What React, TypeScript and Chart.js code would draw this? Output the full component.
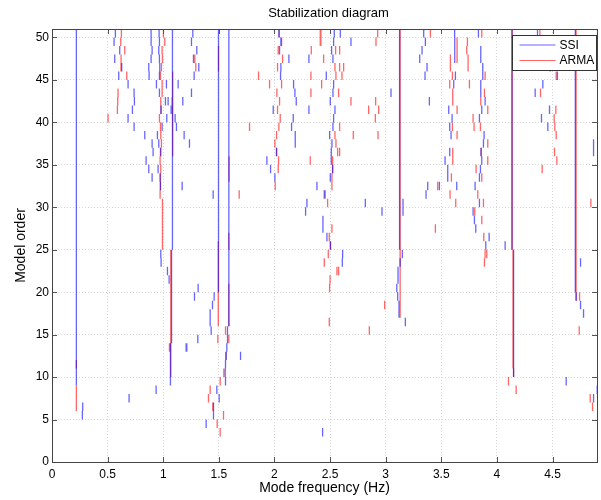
import React, { useEffect, useRef } from 'react';
import { Chart, registerables } from 'chart.js';

Chart.register(...registerables);

const X_MAX = 4.9;
const Y_MAX = 51;
const X_STEP = 0.5;
const Y_STEP = 5;
const TITLE = 'Stabilization diagram';
const X_LABEL = 'Mode frequency (Hz)';
const Y_LABEL = 'Model order';
const SERIES_NAMES = ['SSI', 'ARMA'];

// stable columns: [frequency, from order, to order (exclusive top)]
const ssiColumns: [number, number, number][] = [
  [0.219, 9, 51],
  [1.065, 9, 14],
  [1.075, 14, 25],
  [1.083, 25, 51],
  [1.497, 20, 51],
  [1.59, 16, 51],
  [3.125, 25, 51],
  [4.15, 10, 25],
  [4.135, 25, 51],
  [4.705, 20, 51],
];

// single poles: [frequency, model order]
const ssiPoles: [number, number][] = [
  [0.570, 50], [0.558, 49], [0.609, 48], [0.564, 47], [0.627, 46], [0.600, 45], [0.684, 44], [0.738, 43],
  [0.741, 42], [0.723, 41], [0.684, 40], [0.738, 39], [0.834, 38], [0.900, 37], [0.909, 36], [0.846, 35],
  [0.870, 34], [0.900, 33], [0.891, 50], [0.891, 49], [0.900, 48], [0.891, 47], [0.870, 46], [0.873, 45],
  [0.963, 50], [0.966, 49], [0.960, 48], [0.966, 47], [0.969, 46], [0.966, 45], [0.939, 44], [1.029, 44],
  [1.134, 44], [0.966, 43], [1.020, 42], [1.044, 42], [1.176, 42], [0.980, 41], [1.071, 41], [1.032, 40],
  [1.107, 40], [1.119, 39], [0.990, 39], [1.188, 38], [0.948, 38], [0.960, 37], [0.978, 36], [0.954, 34],
  [1.170, 32], [0.972, 33], [0.975, 32],
  [0.276, 6], [0.273, 5], [0.693, 7], [0.936, 8], [0.978, 24], [0.981, 23], [1.038, 22], [1.053, 21], [1.212, 13],
  [1.314, 20], [1.281, 19], [1.458, 19], [1.443, 18], [1.422, 17], [1.422, 16], [1.431, 15], [1.311, 14],
  [1.206, 13], [1.695, 12], [1.578, 15], [1.578, 14], [1.572, 13], [1.566, 12], [1.560, 11], [1.557, 10],
  [1.560, 9], [1.482, 8], [1.503, 7], [1.452, 6], [1.452, 5], [1.386, 4], [1.497, 20],
  [1.266, 50], [1.254, 49], [1.302, 48], [1.272, 47], [1.320, 46], [1.278, 45], [1.254, 43], [1.236, 37], [1.449, 31],
  [2.040, 50], [2.058, 49], [2.046, 48], [2.058, 46], [2.055, 45], [1.989, 41], [1.932, 35], [1.965, 34],
  [2.004, 33], [2.019, 36],
  [2.130, 47], [2.310, 47], [2.172, 44], [2.184, 43], [2.196, 42], [2.310, 41], [2.169, 40], [2.154, 39],
  [2.187, 38], [2.187, 37], [2.382, 32], [2.292, 30], [2.280, 29],
  [2.502, 25], [2.613, 24], [2.610, 23], [2.433, 3], [3.111, 22], [3.111, 21], [3.100, 20], [3.108, 19],
  [3.120, 18], [3.120, 17], [3.150, 24], [3.177, 16], [3.130, 23],
  [2.538, 50], [2.592, 50], [2.532, 49], [2.688, 49], [3.342, 50], [3.357, 49], [2.514, 48], [3.327, 48],
  [2.526, 47], [3.306, 47], [3.372, 46], [2.466, 45], [3.354, 45], [2.532, 44], [3.048, 43], [2.526, 43],
  [2.502, 42], [3.393, 42], [2.544, 41], [2.532, 40], [2.526, 39], [2.496, 38], [2.517, 37], [2.511, 36],
  [2.511, 35], [2.523, 34], [2.502, 33], [2.448, 31], [2.817, 30], [2.436, 28], [2.436, 27], [2.967, 29],
  [2.472, 26], [3.378, 32], [3.363, 31], [3.483, 32], [3.156, 30], [3.156, 29],
  [3.620, 50], [3.621, 49], [3.621, 48], [3.621, 47], [3.627, 45], [3.612, 44], [3.567, 41], [3.597, 40],
  [3.576, 39], [3.588, 38], [3.576, 36], [3.534, 35], [3.558, 34], [3.558, 33], [3.639, 32],
  [3.834, 50], [3.855, 48], [3.855, 47], [3.873, 46], [3.873, 45], [3.855, 44], [3.855, 43], [3.894, 42],
  [3.864, 41], [3.843, 40], [3.885, 38], [3.879, 37], [3.858, 36], [3.864, 35], [3.852, 34], [3.843, 33],
  [3.804, 32], [3.843, 30], [3.786, 29], [3.798, 28], [3.810, 27], [3.930, 26], [3.900, 25],
  [4.365, 50], [4.479, 46], [4.544, 45], [4.344, 43], [4.413, 44], [4.473, 41], [4.401, 40], [4.458, 39],
  [4.869, 37], [4.869, 36], [4.905, 50], [4.074, 25],
  [4.752, 23], [4.713, 19], [4.752, 18], [4.779, 17], [4.623, 9], [4.902, 8], [4.869, 7], [4.914, 6],
];

const armaColumns: [number, number, number][] = [
  [0.219, 6, 9],
  [0.219, 11, 12],
  [0.993, 25, 31],
  [1.068, 10, 25],
  [1.085, 36, 46],
  [1.495, 16, 26],
  [1.497, 46, 49],
  [1.59, 16, 21],
  [1.59, 25, 27],
  [1.592, 33, 36],
  [3.13, 17, 51],
  [4.145, 11, 25],
  [4.138, 25, 51],
  [4.712, 19, 51],
];

const armaPoles: [number, number][] = [
  [0.624, 50], [0.618, 49], [0.654, 48], [0.621, 47], [0.620, 46], [0.672, 45], [0.594, 43], [0.591, 42],
  [0.588, 41], [0.504, 40],
  [1.002, 50], [1.014, 49], [0.990, 48], [0.993, 47], [0.984, 46], [0.975, 45], [0.990, 44], [0.990, 43],
  [0.978, 42], [0.980, 41], [0.966, 40], [0.975, 39], [0.978, 38], [0.984, 37], [0.975, 36], [0.972, 35],
  [0.978, 34], [0.975, 33], [0.975, 32], [0.972, 31], [1.080, 42], [1.056, 13],
  [1.491, 14], [1.560, 15], [1.590, 14], [1.563, 12], [1.545, 10], [1.512, 9], [1.422, 8], [1.407, 7],
  [1.446, 6], [1.542, 5], [1.485, 4], [1.512, 3],
  [1.284, 47], [1.293, 46], [1.683, 31], [1.776, 39], [1.857, 45], [1.956, 44],
  [2.043, 50], [2.064, 49], [2.034, 48], [2.073, 47], [2.028, 46], [2.064, 44], [2.022, 43], [2.046, 42],
  [2.028, 41], [2.052, 40], [2.040, 39], [2.019, 38], [2.004, 37], [2.019, 36], [2.037, 35], [2.034, 34],
  [2.007, 32],
  [2.331, 48], [2.418, 50], [2.418, 49], [2.328, 45], [2.424, 44], [2.328, 43], [2.322, 35],
  [2.505, 25], [2.484, 24], [2.448, 23], [2.562, 22], [2.577, 22], [2.500, 21], [2.496, 20], [2.493, 16],
  [2.853, 15], [2.991, 18],
  [2.412, 50], [2.412, 49], [2.913, 49], [2.928, 50], [3.402, 50], [2.550, 48], [2.586, 48], [2.442, 47],
  [2.544, 46], [2.586, 46], [2.622, 46], [2.553, 45], [2.607, 45], [2.424, 44], [2.577, 43], [2.688, 42],
  [2.910, 42], [2.847, 41], [2.937, 41], [2.907, 40], [2.586, 39], [2.544, 38], [2.709, 38], [2.931, 38],
  [2.553, 37], [2.568, 36], [2.586, 36], [2.523, 35], [2.523, 34], [2.517, 33], [2.517, 32], [2.457, 31],
  [2.478, 30], [2.517, 27], [3.447, 27], [2.493, 26], [3.468, 32],
  [3.642, 49], [3.642, 48], [3.642, 47], [3.582, 47], [3.582, 46], [3.600, 45], [3.576, 44], [3.603, 43],
  [3.603, 42], [3.642, 41], [3.600, 39], [3.642, 38], [3.603, 36], [3.603, 35], [3.591, 33], [3.579, 31],
  [3.630, 30],
  [3.864, 50], [3.735, 49], [3.729, 48], [3.741, 47], [3.741, 46], [3.894, 45], [3.753, 44], [3.888, 43],
  [3.855, 42], [3.918, 41], [3.786, 40], [3.795, 39], [3.852, 39], [3.918, 37], [3.858, 36], [3.918, 35],
  [3.813, 34], [3.864, 33], [3.828, 31], [3.879, 30], [3.801, 29], [3.864, 28], [3.882, 26],
  [4.386, 50], [4.533, 45], [4.392, 43], [4.530, 41], [4.515, 40], [4.521, 39], [4.533, 38], [4.518, 36],
  [4.539, 35], [4.407, 34], [4.845, 30], [4.908, 50], [4.905, 45],
  [3.894, 24], [3.909, 24], [3.888, 23], [4.104, 9], [4.173, 8], [4.150, 10], [4.743, 19], [4.740, 15],
  [4.914, 18], [4.839, 7], [4.860, 6], [4.908, 5],
];

type Pt = { x: number; y: number | null };

function buildSegments(cols: [number, number, number][], poles: [number, number][]): Pt[] {
  const out: Pt[] = [];
  for (const [f, lo, hi] of cols) {
    out.push({ x: f, y: lo }, { x: f, y: hi }, { x: f, y: null });
  }
  for (const [f, n] of poles) {
    out.push({ x: f, y: n }, { x: f, y: n + 1 }, { x: f, y: null });
  }
  return out;
}

const FONT = "'Liberation Sans', Arial, sans-serif";
const SSI_COLOR = 'rgba(0, 0, 255, 0.6)';
const ARMA_COLOR = 'rgba(255, 0, 0, 0.6)';

const framePlugin = {
  id: 'frame',
  afterDraw(chart: any) {
    const { ctx, chartArea: ca, scales } = chart;
    ctx.save();
    // inward ticks
    ctx.strokeStyle = '#555';
    ctx.lineWidth = 1;
    ctx.beginPath();
    for (const t of scales.x.ticks) {
      const px = Math.round(scales.x.getPixelForValue(t.value)) + 0.5;
      ctx.moveTo(px, ca.bottom);
      ctx.lineTo(px, ca.bottom - 5);
      ctx.moveTo(px, ca.top);
      ctx.lineTo(px, ca.top + 5);
    }
    for (const t of scales.y.ticks) {
      const py = Math.round(scales.y.getPixelForValue(t.value)) + 0.5;
      ctx.moveTo(ca.left, py);
      ctx.lineTo(ca.left + 5, py);
      ctx.moveTo(ca.right, py);
      ctx.lineTo(ca.right - 5, py);
    }
    ctx.stroke();
    // box
    ctx.strokeStyle = '#444';
    ctx.strokeRect(Math.round(ca.left) + 0.5, Math.round(ca.top) + 0.5,
      Math.round(ca.right - ca.left), Math.round(ca.bottom - ca.top));
    // title
    ctx.fillStyle = '#000';
    ctx.font = `13px ${FONT}`;
    ctx.textAlign = 'center';
    ctx.textBaseline = 'middle';
    ctx.fillText(TITLE, (ca.left + ca.right) / 2 + 4, 13);
    // legend
    const w = 84, h = 35;
    const x0 = Math.round(ca.right) - w - 1 + 0.5;
    const y0 = Math.round(ca.top) + 6 + 0.5;
    ctx.fillStyle = '#fff';
    ctx.fillRect(x0, y0, w, h);
    ctx.strokeStyle = '#333';
    ctx.strokeRect(x0, y0, w, h);
    const rows = [SSI_COLOR, ARMA_COLOR];
    ctx.font = `12px ${FONT}`;
    ctx.textAlign = 'left';
    rows.forEach((c, i) => {
      const ly = y0 + 9.5 + i * 15.5;
      ctx.strokeStyle = c;
      ctx.lineWidth = 1.2;
      ctx.beginPath();
      ctx.moveTo(x0 + 7, ly);
      ctx.lineTo(x0 + 43, ly);
      ctx.stroke();
      ctx.fillStyle = '#000';
      ctx.fillText(SERIES_NAMES[i], x0 + 47, ly + 0.5);
    });
    ctx.restore();
  },
};

export default function App() {
  const ref = useRef<HTMLCanvasElement | null>(null);
  useEffect(() => {
    if (!ref.current) return;
    const chart = new Chart(ref.current, {
      type: 'scatter',
      data: {
        datasets: [
          {
            label: SERIES_NAMES[0],
            data: buildSegments(ssiColumns, ssiPoles) as any,
            showLine: true,
            borderColor: SSI_COLOR,
            borderWidth: 1.3,
            pointRadius: 0,
            pointHoverRadius: 0,
            spanGaps: false,
          },
          {
            label: SERIES_NAMES[1],
            data: buildSegments(armaColumns, armaPoles) as any,
            showLine: true,
            borderColor: ARMA_COLOR,
            borderWidth: 1.3,
            pointRadius: 0,
            pointHoverRadius: 0,
            spanGaps: false,
          },
        ],
      },
      options: {
        responsive: false,
        animation: false,
        events: [],
        layout: { padding: { top: 29, right: 4, left: 0, bottom: 0 } },
        plugins: {
          legend: { display: false },
          tooltip: { enabled: false },
          title: { display: false },
        },
        scales: {
          x: {
            type: 'linear',
            min: 0,
            max: X_MAX,
            afterFit: (s: any) => { s.height = 38; },
            ticks: {
              stepSize: X_STEP,
              includeBounds: false,
              padding: 5,
              maxRotation: 0,
              color: '#000',
              font: { family: FONT, size: 12 },
              callback: (v: any) => String(v),
            },
            grid: { color: '#d8d8d8', drawTicks: false, lineWidth: 1 },
            border: { display: false, dash: [1, 2] },
            title: {
              display: true,
              text: X_LABEL,
              color: '#000',
              font: { family: FONT, size: 14 },
              padding: { top: 0, bottom: 3 },
            },
          },
          y: {
            type: 'linear',
            min: 0,
            max: Y_MAX,
            afterFit: (s: any) => { s.width = 52; },
            ticks: {
              stepSize: Y_STEP,
              includeBounds: false,
              padding: 3,
              color: '#000',
              font: { family: FONT, size: 12 },
              callback: (v: any) => String(v),
            },
            grid: { color: '#d8d8d8', drawTicks: false, lineWidth: 1 },
            border: { display: false, dash: [1, 2] },
            title: {
              display: true,
              text: Y_LABEL,
              color: '#000',
              font: { family: FONT, size: 14 },
              padding: { top: 13, bottom: 0 },
            },
          },
        },
      },
      plugins: [framePlugin],
    });
    return () => chart.destroy();
  }, []);
  return (
    <div style={{ position: 'fixed', left: 0, top: 0, width: 601, height: 500, background: '#fff' }}>
      <canvas ref={ref} width={601} height={500} style={{ display: 'block', width: 601, height: 500 }} />
    </div>
  );
}
